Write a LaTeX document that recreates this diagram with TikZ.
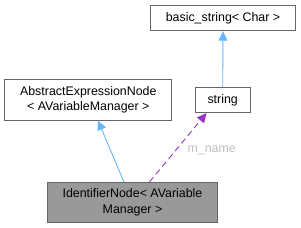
\documentclass[tikz,border=0pt]{standalone}
\usepackage{fontspec}
\setmainfont{Liberation Sans}
\usetikzlibrary{arrows.meta}
\definecolor{edgeblue}{HTML}{63B8FF}
\definecolor{edgepurple}{HTML}{9A32CD}
\definecolor{boxborder}{HTML}{666666}
\definecolor{hlfill}{HTML}{999999}
\definecolor{lblgrey}{HTML}{BEBEBE}
\begin{document}
\begin{tikzpicture}[x=1pt,y=-1pt,
  cls/.style={draw=boxborder, line width=0.9pt, fill=white, inner sep=0pt, align=center,
    font=\fontsize{12.4}{15.6}\selectfont},
  hl/.style={cls, fill=hlfill},
  inh/.style={draw=edgeblue, line width=0.9pt, -{Triangle[length=9.5pt,width=9pt]}},
  use/.style={draw=edgepurple, line width=0.9pt, dash pattern=on 6pt off 4pt, -{Triangle[length=9.5pt,width=9pt]}},
  lbl/.style={text=lblgrey, font=\fontsize{12.4}{15.6}\selectfont, inner sep=0pt}]
\useasboundingbox (0,0) rectangle (301,228);
\node[cls, minimum width=144.6pt, minimum height=25.7pt] (bs) at (223,17.9) {basic\_string< Char >};
\node[cls, minimum width=54.7pt, minimum height=25.3pt] (str) at (222.7,100) {string};
\node[cls, minimum width=167.3pt, minimum height=40.7pt] (aen) at (88.3,99.7) {AbstractExpressionNode\\< AVariableManager >};
\node[hl, minimum width=169.6pt, minimum height=39.7pt] (idn) at (132.5,202.2) {IdentifierNode< AVariable\\Manager >};
\node[lbl] (mn) at (211.7,150.7) {m\_name};
\draw[inh] (idn.113) -- (aen.-65);
\draw[inh] (str.north) -- (bs.south);
\draw[use] (idn.50) -- (str.-141.6);
\end{tikzpicture}
\end{document}
